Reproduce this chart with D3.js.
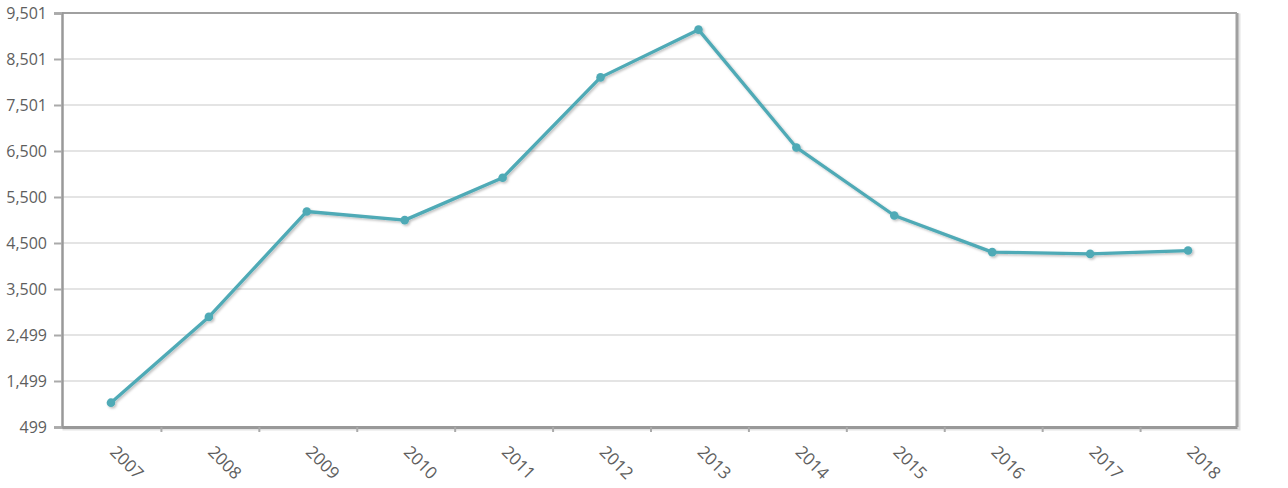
<!DOCTYPE html>
<html>
<head>
<meta charset="utf-8">
<script src="https://cdn.jsdelivr.net/npm/d3@7"></script>
<style>
  html, body { margin: 0; padding: 0; background: #fff; }
  svg { display: block; }
  text { font-family: "Open Sans", sans-serif; }
</style>
</head>
<body>
<svg id="chart" width="1288" height="488"></svg>
<script>
const years = ["2007","2008","2009","2010","2011","2012","2013","2014","2015","2016","2017","2018"];
const values = [1028, 2893, 5185, 4997, 5918, 8101, 9139, 6577, 5098, 4301, 4264, 4336];
const yTickValues = [499, 1499.2, 2499.4, 3499.7, 4499.9, 5500.1, 6500.3, 7500.6, 8500.8, 9501];
const yTickLabels = ["499","1,499","2,499","3,500","4,500","5,500","6,500","7,501","8,501","9,501"];

const W = 1288, H = 488;
const m = { left: 62, right: 51, top: 13, bottom: 61 };
const svg = d3.select("#chart");

const x = d3.scaleBand().domain(years).range([m.left, W - m.right]);
const y = d3.scaleLinear().domain([499, 9501]).range([H - m.bottom, m.top]);

const defs = svg.append("defs");
const f = defs.append("filter").attr("id", "sh").attr("x", "-20%").attr("y", "-20%").attr("width", "150%").attr("height", "150%");
f.append("feDropShadow").attr("dx", 1.5).attr("dy", 1.5).attr("stdDeviation", 1).attr("flood-color", "#000").attr("flood-opacity", 0.25);

// frame shadow
svg.append("rect")
  .attr("x", m.left + 2).attr("y", m.top + 2)
  .attr("width", W - m.left - m.right).attr("height", H - m.top - m.bottom)
  .attr("fill", "none").attr("stroke", "#e4e4e4").attr("stroke-width", 3);

svg.append("rect")
  .attr("x", m.left).attr("y", m.top)
  .attr("width", W - m.left - m.right).attr("height", H - m.top - m.bottom)
  .attr("fill", "#fff");

// gridlines
svg.append("g")
  .selectAll("line")
  .data(yTickValues.slice(1, -1))
  .join("line")
  .attr("x1", m.left).attr("x2", W - m.right)
  .attr("y1", d => y(d)).attr("y2", d => y(d))
  .attr("stroke", "#cacaca").attr("stroke-width", 1.2);

// frame
svg.append("line").attr("x1", m.left).attr("x2", W - m.right).attr("y1", m.top).attr("y2", m.top)
  .attr("stroke", "#a0a0a0").attr("stroke-width", 2);
svg.append("line").attr("x1", W - m.right).attr("x2", W - m.right).attr("y1", m.top).attr("y2", H - m.bottom)
  .attr("stroke", "#a0a0a0").attr("stroke-width", 3);

// y axis
const yAxis = d3.axisLeft(y).tickValues(yTickValues).tickSize(8).tickPadding(7)
  .tickFormat((d, i) => yTickLabels[i]);
const gy = svg.append("g").attr("transform", `translate(${m.left},0)`).call(yAxis);
gy.select(".domain").attr("stroke", "#999").attr("stroke-width", 2.5);
gy.selectAll(".tick line").attr("stroke", "#aaa").attr("stroke-width", 2);
gy.selectAll(".tick text").attr("fill", "#5e5e5e").style("font-size", "16px").style("font-family", "'Open Sans', sans-serif");

// x axis
const xAxis = d3.axisBottom(x).tickSize(0).tickFormat("");
const gx = svg.append("g").attr("transform", `translate(0,${H - m.bottom})`).call(xAxis);
gx.select(".domain").attr("stroke", "#999").attr("stroke-width", 3);
gx.selectAll(".tick").remove();
gx.selectAll(".bt")
  .data(years.slice(1))
  .join("line")
  .attr("x1", d => x(d) + 1.5).attr("x2", d => x(d) + 1.5)
  .attr("y1", 0).attr("y2", 5)
  .attr("stroke", "#aaa").attr("stroke-width", 2);
gx.selectAll(".xl")
  .data(years)
  .join("text")
  .attr("transform", d => `translate(${x(d) + x.bandwidth() / 2 - 2},26) rotate(45)`)
  .attr("text-anchor", "start")
  .attr("fill", "#5e5e5e")
  .style("font-size", "17px")
  .text(d => d);

// line
const data = years.map((yr, i) => ({ yr, v: values[i] }));
const line = d3.line().x(d => x(d.yr) + x.bandwidth() / 2).y(d => y(d.v));
const g = svg.append("g").attr("filter", "url(#sh)");
g.append("path").datum(data).attr("d", line)
  .attr("fill", "none").attr("stroke", "#4faab6").attr("stroke-width", 3.3)
  .attr("stroke-linejoin", "round");
g.selectAll("circle").data(data).join("circle")
  .attr("cx", d => x(d.yr) + x.bandwidth() / 2)
  .attr("cy", d => y(d.v))
  .attr("r", 4.3)
  .attr("fill", "#4faab6");
</script>
</body>
</html>
